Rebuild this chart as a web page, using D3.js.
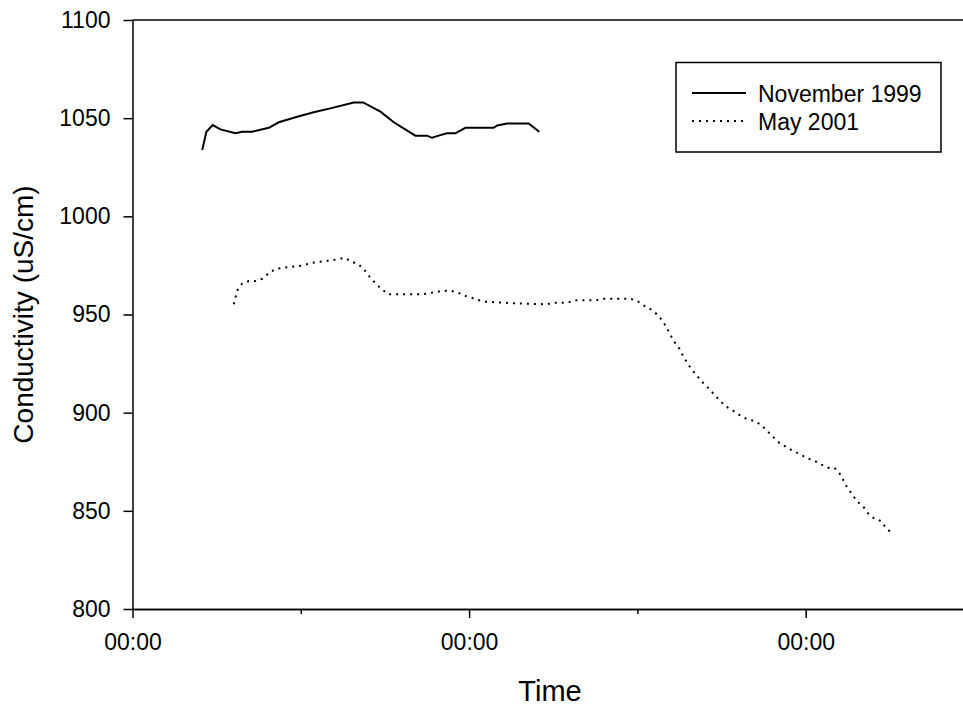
<!DOCTYPE html>
<html>
<head>
<meta charset="utf-8">
<script src="https://cdn.jsdelivr.net/npm/d3@7"></script>
<style>
  body { margin: 0; background: #fff; }
  text { font-family: "Liberation Sans", Arial, sans-serif; fill: #000; }
</style>
</head>
<body>
<div id="chart"></div>
<script>
// hours from the first midnight shown on the axis
const novHours = [4.97, 5.27, 5.72, 6.27, 7.34, 7.82, 8.53, 9.72, 10.43, 11.74, 12.92, 14.11,
    15.77, 16.44, 17.68, 18.63, 20.17, 21.0, 21.36, 21.83, 22.43, 23.02, 23.74, 25.75, 26.0,
    26.71, 28.25, 29.0];
const novValues = [1033.8, 1043.1, 1046.5, 1044.3, 1042.3, 1043.1, 1043.1, 1045.1, 1047.9, 1050.7,
    1053, 1055, 1058, 1058, 1053.3, 1047.9, 1041.1, 1041.1, 1040, 1041.1, 1042.3, 1042.3, 1045.1,
    1045.1, 1046.3, 1047.3, 1047.3, 1043.1];

const mayHours = [7.22, 7.34, 7.46, 7.82, 8.29, 8.77, 9.25, 9.72, 10.19, 11.21, 12.17, 12.69,
    13.64, 14.63, 15.13, 15.61, 16.09, 16.54, 16.91, 17.32, 17.75, 18.23, 18.75, 20.72, 21.19,
    22.19, 22.67, 23.14, 23.67, 24.14, 24.61, 25.11, 26.59, 27.11, 29.56, 30.03, 30.99, 31.51,
    33.0, 33.52, 35.5, 35.97, 36.45, 36.92, 37.4, 37.8, 38.11, 38.35, 38.66, 39.01, 39.25, 39.54,
    39.85, 40.2, 40.56, 41.01, 41.44, 41.91, 42.34, 42.82, 43.29, 43.77, 44.24, 44.76, 45.19,
    45.64, 46.12, 46.59, 47.07, 47.62, 48.09, 48.56, 49.04, 49.56, 50.04, 50.41, 50.7, 50.94,
    51.3, 51.63, 52.09, 52.45, 52.9, 53.37, 53.7, 54.12];
const mayValues = [955.2, 958.6, 962.1, 965.7, 967, 967, 968.2, 971, 973.2, 974.2, 975, 976.2,
    977.1, 978.1, 978.9, 976.9, 975.7, 972.7, 969.2, 965.9, 963, 960.3, 960.3, 960.3, 960.9,
    962.1, 962.1, 961.4, 959.6, 958.6, 957.5, 956.5, 956, 955.7, 955.2, 956, 956, 957.2,
    957.2, 958, 958, 957, 954.6, 952.8, 950.1, 946.7, 943, 939.6, 935.8, 932.4, 929, 925.6,
    922.1, 919.2, 916.1, 912.9, 909.5, 905.9, 903, 901, 898.8, 896.9, 895.9, 894.1, 891.2,
    887.9, 884.6, 882.7, 880.6, 878.8, 876.8, 875.7, 873.8, 872, 872, 869.1, 865.5, 862,
    858.6, 855, 852.3, 848.7, 846, 844.8, 841.6, 838.6];

const seriesNames = ["November 1999", "May 2001"];
const yTicks = [800, 850, 900, 950, 1000, 1050, 1100];
const majorTicks = [0, 24, 48];
const minorTicks = [12, 36, 60];
const majorLabel = "00:00";

let width = 963, height = 707;
let margin = {top: 20, right: -11, bottom: 98, left: 132.5};
let plotW = width - margin.left - margin.right,
    plotH = height - margin.top - margin.bottom;

let svg = d3.select("#chart").append("svg")
    .attr("width", width)
    .attr("height", height);

let g = svg.append("g").attr("transform", "translate(" + margin.left + "," + margin.top + ")");

let xScale = d3.scaleLinear().domain([0, 60]).range([0, plotW]);
let yScale = d3.scaleLinear().domain([800, 1100]).range([plotH, 0]);

//frame top line
g.append("line")
    .attr("x1", 0).attr("x2", plotW)
    .attr("y1", 0).attr("y2", 0)
    .attr("stroke", "#000").attr("stroke-width", 1.5);

//y axis
g.append("g")
    .call(d3.axisLeft(yScale).tickValues(yTicks).tickSize(9).tickSizeOuter(0).tickPadding(13)
        .tickFormat(d3.format("d")));

//x axis, minor ticks then major ticks
g.append("g")
    .attr("transform", "translate(0," + plotH + ")")
    .call(d3.axisBottom(xScale).tickValues(minorTicks).tickSize(5).tickSizeOuter(0).tickFormat(""));

g.append("g")
    .attr("transform", "translate(0," + plotH + ")")
    .call(d3.axisBottom(xScale).tickValues(majorTicks).tickSize(9).tickSizeOuter(0).tickPadding(16)
        .tickFormat(() => majorLabel));

g.selectAll(".domain, .tick line").attr("stroke", "#000").attr("stroke-width", 1.5);
g.selectAll(".tick text").attr("font-size", 23);

svg.append("text")
    .attr("transform", "rotate(-90)")
    .attr("x", -(margin.top + plotH / 2))
    .attr("y", 33)
    .attr("text-anchor", "middle")
    .attr("font-size", 28)
    .text("Conductivity (uS/cm)");

svg.append("text")
    .attr("x", 550)
    .attr("y", 701)
    .attr("text-anchor", "middle")
    .attr("font-size", 29)
    .text("Time");

let line = d3.line()
    .x((d) => xScale(d[0]))
    .y((d) => yScale(d[1]));

let nov = novHours.map((h, i) => [h, novValues[i]]);
let may = mayHours.map((h, i) => [h, mayValues[i]]);

g.append("path")
    .datum(nov)
    .attr("fill", "none")
    .attr("stroke", "#000")
    .attr("stroke-width", 2)
    .attr("d", line);

g.append("path")
    .datum(may)
    .attr("fill", "none")
    .attr("stroke", "#000")
    .attr("stroke-width", 2)
    .attr("stroke-dasharray", "2,5")
    .attr("d", line);

//legend
let legend = svg.append("g");
legend.append("rect")
    .attr("x", 676).attr("y", 62.5)
    .attr("width", 265).attr("height", 89.5)
    .attr("fill", "#fff").attr("stroke", "#000").attr("stroke-width", 1.5);

let dashes = [null, "2,5"];
seriesNames.forEach((name, i) => {
    let yy = 93 + i * 28;
    legend.append("line")
        .attr("x1", 692).attr("x2", 746)
        .attr("y1", yy).attr("y2", yy)
        .attr("stroke", "#000").attr("stroke-width", 2)
        .attr("stroke-dasharray", dashes[i]);
    legend.append("text")
        .attr("x", 758).attr("y", yy + 8.5)
        .attr("font-size", 23)
        .text(name);
});
</script>
</body>
</html>
